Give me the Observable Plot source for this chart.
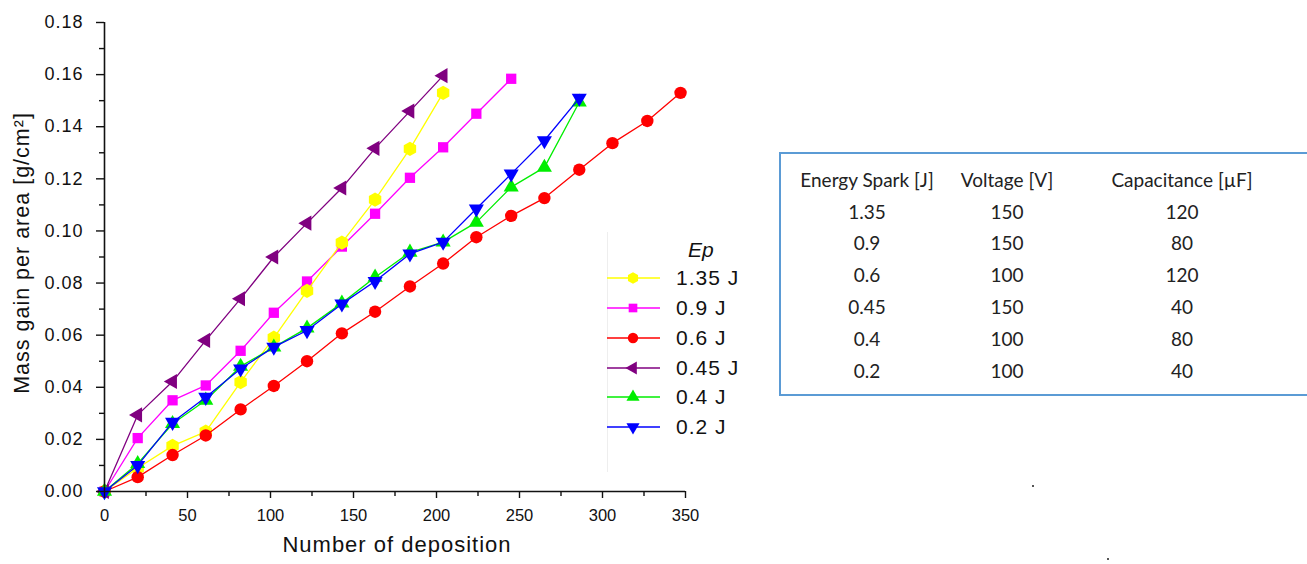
<!DOCTYPE html>
<html><head><meta charset="utf-8">
<script src="https://cdn.jsdelivr.net/npm/d3@7"></script>
<script src="https://cdn.jsdelivr.net/npm/@observablehq/plot@0.6"></script>
<style>
body{margin:0;background:#fff;}
#wrap{position:relative;width:1307px;height:564px;overflow:hidden;font-family:"Liberation Sans",Arial,sans-serif;background:#fff;}
#wrap svg{position:absolute;left:0;top:0;overflow:visible;}
#wrap g[aria-label="y-axis tick label"] text{letter-spacing:1px;}
#wrap g[aria-label="text"] text{letter-spacing:1px;}
.lgrow{position:absolute;left:600px;height:30px;display:flex;align-items:center;}
.lgtext{font-size:21px;letter-spacing:1px;color:#111;margin-left:10px;}
.ep{position:absolute;left:688px;top:238px;font-size:21px;font-style:italic;color:#111;}
.vline{position:absolute;left:607px;top:232px;width:1px;height:240px;background:#eeeeee;}
.tbl{position:absolute;left:779px;top:152px;width:540px;height:244px;border:2px solid #5b9bd5;box-sizing:border-box;font-family:Lato,"Open Sans",sans-serif;font-size:19px;color:#222;}
.cell{position:absolute;transform:translate(-50%,-50%);white-space:nowrap;}
.spk{position:absolute;width:2px;height:2px;background:#555;}
</style></head><body><div id="wrap"></div>
<script>
const deposition = [0, 20, 41, 61, 82, 102, 122, 143, 163, 184, 204, 224, 245, 265, 286, 306, 327, 347];
const seriesNames = ["1.35 J", "0.9 J", "0.6 J", "0.45 J", "0.4 J", "0.2 J"];
const seriesColors = ["#ffff00", "#ff00ff", "#ff0000", "#800080", "#00ee00", "#0000ff"];
const mass135 = [0, 0.009, 0.0175, 0.023, 0.042, 0.059, 0.077, 0.0955, 0.112, 0.1315, 0.153];
const mass09  = [0, 0.0205, 0.035, 0.0407, 0.054, 0.0686, 0.0806, 0.094, 0.1066, 0.1204, 0.1321, 0.145, 0.1584];
const mass06  = [0, 0.0055, 0.014, 0.0215, 0.0315, 0.0405, 0.050, 0.0607, 0.069, 0.0787, 0.0875, 0.0976, 0.1058, 0.1126, 0.1235, 0.1337, 0.1422, 0.153];
const mass045 = [0, 0.0294, 0.0422, 0.058, 0.074, 0.090, 0.103, 0.1165, 0.1317, 0.146, 0.1596];
const mass04  = [0, 0.0107, 0.026, 0.035, 0.048, 0.0554, 0.0627, 0.0723, 0.0822, 0.0918, 0.0957, 0.1033, 0.1168, 0.1244, 0.1494];
const mass02  = [0, 0.010, 0.0266, 0.0362, 0.0471, 0.0554, 0.0618, 0.072, 0.0807, 0.0912, 0.0957, 0.1085, 0.1219, 0.1347, 0.151];
const xTicks = [0, 50, 100, 150, 200, 250, 300, 350];
const xMinorTicks = [25, 75, 125, 175, 225, 275, 325];
const yTicks = [0, 0.02, 0.04, 0.06, 0.08, 0.10, 0.12, 0.14, 0.16, 0.18];
const yMinorTicks = [0.01, 0.03, 0.05, 0.07, 0.09, 0.11, 0.13, 0.15, 0.17];
const xLabel = "Number of deposition";
const yLabel = "Mass gain per area [g/cm²]";
const legendTitle = "Ep";
const tableHeader = ["Energy Spark [J]", "Voltage [V]", "Capacitance [µF]"];
const tableEnergy = ["1.35", "0.9", "0.6", "0.45", "0.4", "0.2"];
const tableVoltage = ["150", "150", "100", "150", "100", "100"];
const tableCapacitance = ["120", "80", "120", "40", "80", "40"];

const sqrt3 = Math.sqrt(3);
const hexagon = {draw(ctx, size){const rx=Math.sqrt(size/Math.PI), ry=rx*2/sqrt3, hy=ry/2;
  ctx.moveTo(0,ry);ctx.lineTo(rx,hy);ctx.lineTo(rx,-hy);ctx.lineTo(0,-ry);ctx.lineTo(-rx,-hy);ctx.lineTo(-rx,hy);ctx.closePath();}};
const triUp = {draw(ctx,size){const y=-Math.sqrt(size/(sqrt3*3));ctx.moveTo(0,y*2);ctx.lineTo(-sqrt3*y,-y);ctx.lineTo(sqrt3*y,-y);ctx.closePath();}};
const triDown = {draw(ctx,size){const y=Math.sqrt(size/(sqrt3*3));ctx.moveTo(0,y*2);ctx.lineTo(-sqrt3*y,-y);ctx.lineTo(sqrt3*y,-y);ctx.closePath();}};
const triLeft = {draw(ctx,size){const y=-Math.sqrt(size/(sqrt3*3));ctx.moveTo(y*2,0);ctx.lineTo(-y,-sqrt3*y);ctx.lineTo(-y,sqrt3*y);ctx.closePath();}};
const square = d3.symbolSquare, circle = d3.symbolCircle;
const seriesSymbols = [hexagon, square, circle, triLeft, triUp, triDown];
const seriesR = [6.2, 5.8, 6.2, 5.6, 5.6, 5.6];
const seriesValues = [mass135, mass09, mass06, mass045, mass04, mass02];
const drawOrder = [1, 0, 2, 3, 4, 5];

const marks = [];
for (const i of drawOrder) {
  const rows = seriesValues[i].map((v, j) => ({x: deposition[j], y: v}));
  marks.push(Plot.line(rows, {x: "x", y: "y", stroke: seriesColors[i], strokeWidth: 1.3}));
  marks.push(Plot.dot(rows, {x: "x", y: "y", fill: seriesColors[i], symbol: seriesSymbols[i], r: seriesR[i], stroke: "none"}));
}

const plot = Plot.plot({
  width: 1307, height: 564,
  marginLeft: 104, marginRight: 622, marginTop: 22, marginBottom: 73,
  style: {fontFamily: "'Liberation Sans', Arial, sans-serif", background: "transparent", color: "#111"},
  x: {domain: [0, 350]},
  y: {domain: [0, 0.18]},
  marks: [
    ...marks,
    Plot.ruleX([0], {stroke: "#111", strokeWidth: 1.6}),
    Plot.ruleY([0], {stroke: "#111", strokeWidth: 1.6}),
    Plot.axisY(yTicks, {tickSize: 8, tickPadding: 13, tickFormat: d => d.toFixed(2), fontSize: 18, label: null, strokeWidth: 1.4}),
    Plot.axisY(yMinorTicks, {tickSize: 5, tickFormat: () => "", label: null, strokeWidth: 1.4}),
    Plot.axisX(xTicks, {tickSize: 7, tickPadding: 11, tickFormat: d => String(d), fontSize: 16.5, label: null, strokeWidth: 1.4}),
    Plot.axisX(xMinorTicks, {tickSize: 5, tickFormat: () => "", label: null, strokeWidth: 1.4}),
    Plot.text([xLabel], {text: d => d, frameAnchor: "bottom", dx: 2, dy: 60, fontSize: 22, fill: "#111"}),
    Plot.text([yLabel], {text: d => d, frameAnchor: "left", textAnchor: "middle", rotate: -90, dx: -82, dy: -4, fontSize: 21.5, fill: "#111"})
  ]
});
const wrap = document.getElementById("wrap");
wrap.appendChild(plot);

// legend
const vline = document.createElement("div"); vline.className = "vline"; wrap.appendChild(vline);
const ep = document.createElement("div"); ep.className = "ep"; ep.textContent = legendTitle; wrap.appendChild(ep);
const legendY = [278, 308, 338, 368, 397, 427];
const legendSize = [80, 75, 85, 75, 75, 75];
seriesNames.forEach((name, i) => {
  const row = document.createElement("div");
  row.className = "lgrow";
  row.style.top = (legendY[i] - 15) + "px";
  const path = d3.symbol(seriesSymbols[i], legendSize[i])();
  row.innerHTML = `<svg width="66" height="30" style="position:static;overflow:visible"><line x1="7" x2="60" y1="15" y2="15" stroke="${seriesColors[i]}" stroke-width="1.5"/><path d="${path}" transform="translate(33,15)" fill="${seriesColors[i]}"/></svg><span class="lgtext">${name}</span>`;
  wrap.appendChild(row);
});

// table
const tbl = document.createElement("div"); tbl.className = "tbl"; wrap.appendChild(tbl);
const colX = [86, 226, 401];
const rowY = [25, 57, 88, 120, 152, 184, 216];
const cols = [tableEnergy, tableVoltage, tableCapacitance];
tableHeader.forEach((h, c) => {
  const d = document.createElement("div"); d.className = "cell"; d.textContent = h;
  d.style.left = colX[c] + "px"; d.style.top = rowY[0] + "px"; tbl.appendChild(d);
});
tableEnergy.forEach((_, r) => {
  cols.forEach((col, c) => {
    const d = document.createElement("div"); d.className = "cell"; d.textContent = col[r];
    d.style.left = colX[c] + "px"; d.style.top = rowY[r + 1] + "px"; tbl.appendChild(d);
  });
});

// specks
[[1032, 485], [1107, 558]].forEach(([l, t]) => {
  const s = document.createElement("div"); s.className = "spk"; s.style.left = l + "px"; s.style.top = t + "px"; wrap.appendChild(s);
});
</script></body></html>
